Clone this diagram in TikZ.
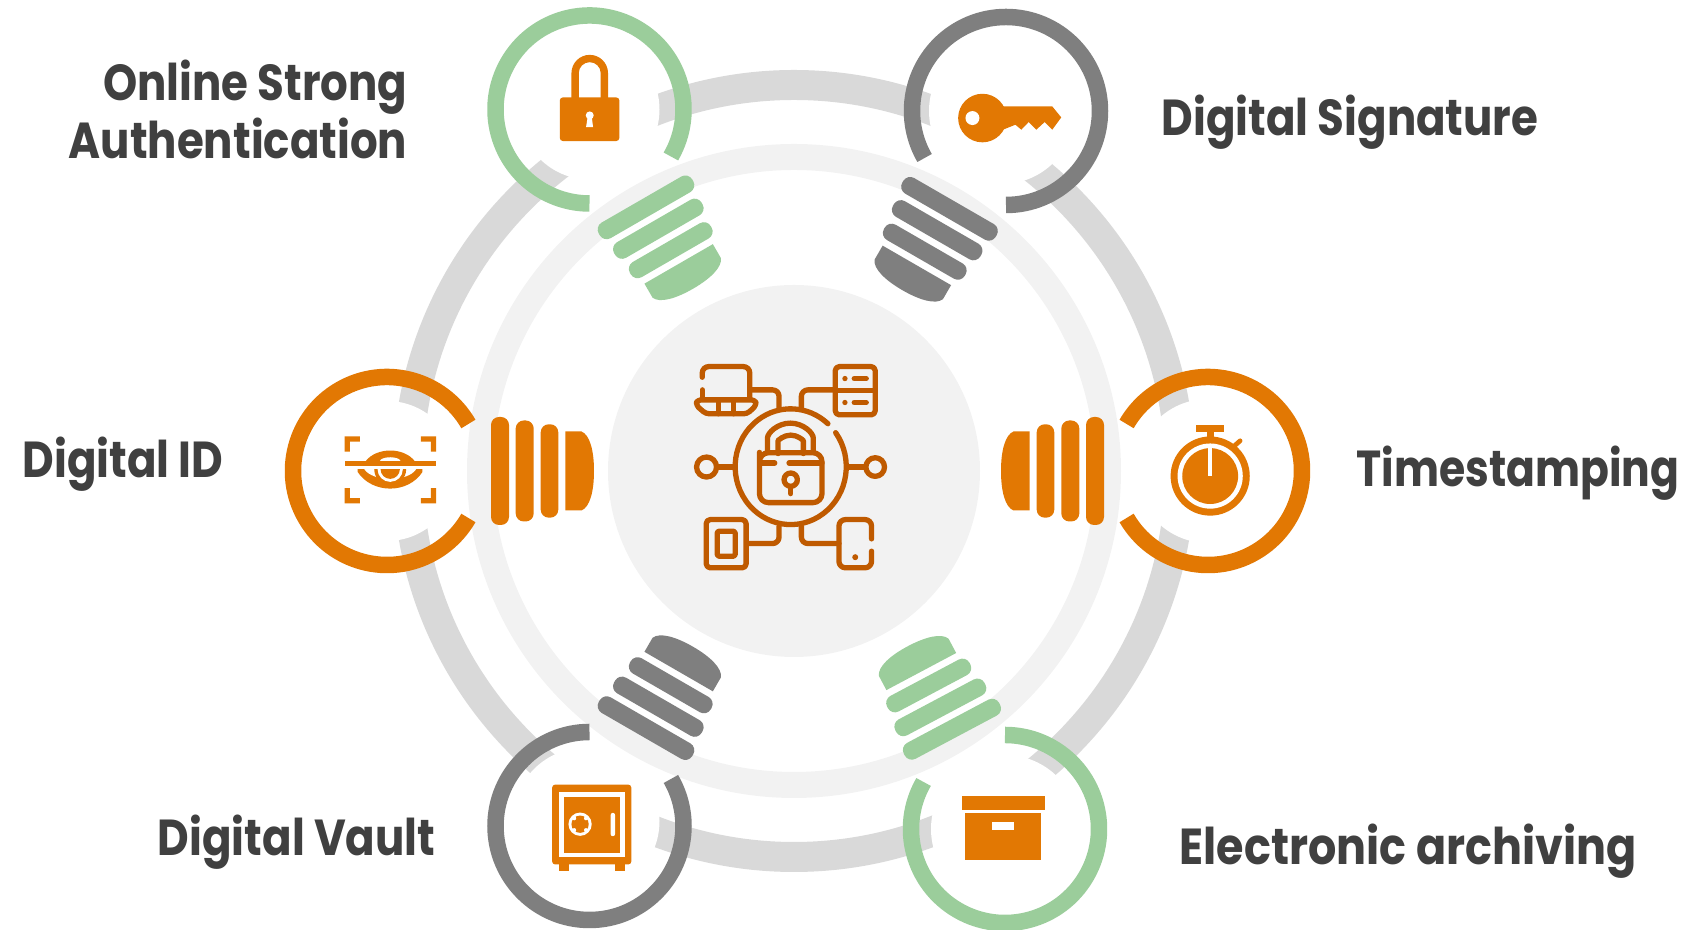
\documentclass[tikz,border=0pt]{standalone}
\usepackage{fontspec}
\setmainfont{Poppins}[FakeStretch=0.86]
\usepackage{tikz}
\definecolor{ringgray}{HTML}{D9D9D9}
\definecolor{ringlight}{HTML}{F2F2F2}
\definecolor{bulborange}{HTML}{E27803}
\definecolor{bulbgreen}{HTML}{9BCD9B}
\definecolor{bulbgray}{HTML}{7F7F7F}
\definecolor{icondark}{HTML}{BF5A00}
\definecolor{labeltext}{HTML}{404040}
\tikzset{zoompx/.style={x=0.003333cm,y=-0.003333cm}}
\tikzset{iconline/.style={draw=icondark,line width=0.053cm,rounded corners=0.065cm,line cap=round,line join=round}}
\tikzset{iconfill/.style={fill=bulborange}}
\tikzset{iconhole/.style={fill=white}}
\tikzset{labelw/.style={anchor=base west,inner sep=0,text=labeltext,font=\fontsize{14.4}{16.5}\selectfont\bfseries}}
\tikzset{labele/.style={anchor=base east,inner sep=0,text=labeltext,font=\fontsize{14.4}{16.5}\selectfont\bfseries,align=right}}
% ring of one bulb, its gap looks along +x
\newcommand{\bulbring}[1]{
\draw[#1,line width=0.165cm] (30:0.94) arc[start angle=30,end angle=330,radius=0.94];
}
% socket of one bulb, along +x
\newcommand{\bulbsocket}[1]{
\fill[#1,rounded corners=0.08cm] (1.04,-0.54) rectangle (1.22,0.54);
\fill[#1,rounded corners=0.08cm] (1.287,-0.505) rectangle (1.467,0.505);
\fill[#1,rounded corners=0.08cm] (1.537,-0.467) rectangle (1.713,0.467);
\fill[#1] (1.783,-0.395) -- (1.945,-0.395) .. controls (2.03,-0.36) and (2.07,-0.2) .. (2.07,0) .. controls (2.07,0.2) and (2.03,0.36) .. (1.945,0.395) -- (1.783,0.395) -- cycle;
}
\begin{document}
\begin{tikzpicture}
\useasboundingbox (0,0) rectangle (16.96,9.30);
\draw[ringgray,line width=0.30cm] (7.94,4.59) circle (3.86);
\draw[ringlight,line width=0.26cm] (7.94,4.59) circle (3.14);
\fill[ringlight] (7.94,4.59) circle (1.86);
\foreach \px/\py/\gap in {3.87/4.59/0.70,12.08/4.59/0.72,5.895/8.205/0.70,10.02/8.19/0.73,5.86/1.09/0.735,10.05/1.01/0.74} {
\fill[white] (\px,\py) circle (\gap);
}
\foreach \px/\py/\rot/\srot/\col in {3.87/4.59/0/0/bulborange,12.08/4.59/180/180/bulborange,5.895/8.205/-60/-60/bulbgreen,10.06/8.19/-120/-120/bulbgray,5.895/1.04/60/60/bulbgray,10.05/1.01/120/118/bulbgreen} {
\begin{scope}[shift={(\px,\py)},rotate=\rot]
\bulbring{\col}
\end{scope}
\begin{scope}[shift={(\px,\py)},rotate=\srot]
\bulbsocket{\col}
\end{scope}
}
% middle icon
\begin{scope}[shift={(6.60,5.90)},zoompx]
\draw[iconline] (393,381) ++(-36:167 and 174) arc[start angle=-36,end angle=312,x radius=167,y radius=174];
\draw[iconline,rounded corners=0.09cm] (299,365) -- (299,339) -- (487,339) -- (487,489) -- (299,489) -- cycle;
\draw[iconline] (305,370) -- (345,370);
\draw[iconline] (388,370) -- (487,370);
\draw[iconline] (323,335) -- (323,315) arc[start angle=180,end angle=360,x radius=69,y radius=65] -- (461,335);
\draw[iconline] (355,335) -- (355,322) arc[start angle=180,end angle=360,x radius=38,y radius=36] -- (431,335);
\draw[iconline] (393,420) circle[radius=20];
\draw[iconline] (393,445) -- (393,462);
% laptop
\draw[iconline] (127,112) -- (127,80) -- (270,80) -- (270,175);
\draw[iconline] (127,150) -- (127,178);
\draw[iconline,rounded corners=0.035cm] (112,180) -- (286,180) -- (290,196) -- (262,222) -- (138,222) -- (108,196) -- cycle;
\draw[iconline] (175,180) -- (175,222);
\draw[iconline] (222,180) -- (222,222);
\draw[iconline] (275,150) -- (358,150) -- (358,205);
% server
\draw[iconline,rounded corners=0.04cm] (527,80) rectangle (647,225);
\draw[iconline] (527,152) -- (647,152);
\fill[icondark] (556,116) circle[radius=8];
\fill[icondark] (556,188) circle[radius=8];
\draw[iconline] (584,116) -- (620,116);
\draw[iconline] (584,188) -- (620,188);
\draw[iconline] (527,150) -- (425,150) -- (425,205);
% side circles
\draw[iconline] (140,382) circle[radius=30];
\draw[iconline] (172,382) -- (225,382);
\draw[iconline] (647,382) circle[radius=28];
\draw[iconline] (565,382) -- (612,382);
% tablet
\draw[iconline,rounded corners=0.04cm] (139,540) rectangle (259,685);
\draw[iconline,rounded corners=0.015cm] (172,575) rectangle (226,650);
\draw[iconline] (262,612) -- (358,612) -- (358,560);
% phone
\draw[iconline] (636,598) -- (636,540) -- (538,540) -- (538,685) -- (636,685) -- (636,635);
\fill[icondark] (587,653) circle[radius=9];
\draw[iconline] (538,612) -- (425,612) -- (425,560);
\end{scope}
% padlock
\begin{scope}[shift={(4.70,9.30)},zoompx]
\fill[iconfill] (305,295) -- (305,220) arc[start angle=180,end angle=360,radius=55] -- (415,295) -- (393,295) -- (393,220) arc[start angle=360,end angle=180,radius=33] -- (327,295) -- cycle;
\fill[iconfill,rounded corners=0.03cm] (270,293) rectangle (449,424);
\fill[iconhole] (360,347) circle[radius=12];
\fill[iconhole] (354,350) -- (366,350) -- (370,382) -- (349,382) -- cycle;
\end{scope}
% key
\begin{scope}[shift={(8.70,9.30)},zoompx]
\fill[iconfill] (338,355) circle[radius=73];
\fill[iconfill] (395,320) -- (548,320) -- (575,353) -- (548,390) -- (525,367) -- (500,390) -- (477,367) -- (455,390) -- (437,375) -- (395,392) -- cycle;
\fill[iconhole] (308,355) circle[radius=21];
\end{scope}
% eye
\begin{scope}[shift={(3.35,5.05)},zoompx]
\fill[iconfill] (29,34) -- (75,34) -- (75,50) -- (45,50) -- (45,80) -- (29,80) -- cycle;
\fill[iconfill] (304,34) -- (258,34) -- (258,50) -- (288,50) -- (288,80) -- (304,80) -- cycle;
\fill[iconfill] (29,236) -- (75,236) -- (75,220) -- (45,220) -- (45,190) -- (29,190) -- cycle;
\fill[iconfill] (304,236) -- (258,236) -- (258,220) -- (288,220) -- (288,190) -- (304,190) -- cycle;
\fill[iconfill] (92,109) .. controls (125,66) and (207,66) .. (240,109) -- cycle;
\fill[iconhole] (135,109) arc[start angle=180,end angle=360,x radius=31,y radius=12] -- cycle;
\fill[iconfill] (29,109) rectangle (304,122);
\fill[iconfill] (68,133) -- (263,133) -- (263,141) .. controls (220,208) and (112,208) .. (68,141) -- cycle;
\fill[iconhole] (88,133) .. controls (115,172) and (218,172) .. (244,133) -- cycle;
\fill[iconfill] (118,133) arc[start angle=180,end angle=0,radius=48] -- cycle;
\fill[iconhole] (128,133) arc[start angle=180,end angle=0,radius=38] -- cycle;
\fill[iconfill] (137,133) arc[start angle=180,end angle=0,radius=29] -- cycle;
\end{scope}
% stopwatch
\begin{scope}[shift={(9.90,5.70)},zoompx]
\fill[iconfill] (620,195) rectangle (705,217);
\fill[iconfill] (651,217) rectangle (673,240);
\draw[bulborange,line width=0.047cm,line cap=round] (735,258) -- (752,243);
\fill[iconfill] (662,349) circle[radius=119];
\fill[iconhole] (662,349) circle[radius=98];
\fill[iconfill] (662,349) circle[radius=84];
\fill[iconhole] (656,262) rectangle (668,350);
\end{scope}
% vault
\begin{scope}[shift={(4.70,3.10)},zoompx]
\fill[iconfill] (267,730) rectangle (297,755);
\fill[iconfill] (435,730) rectangle (465,755);
\fill[iconfill,rounded corners=0.03cm] (247,495) rectangle (485,735);
\fill[iconhole] (267,517) rectangle (465,713);
\fill[iconfill] (282,532) rectangle (450,700);
\fill[iconhole] (331,614) circle[radius=35];
\fill[iconfill] (331,614) circle[radius=26];
\foreach \dang in {45,135,225,315} {
\fill[iconhole] (331,614) ++(\dang:25) circle[radius=6];
}
\fill[iconhole,rounded corners=0.02cm] (423,580) rectangle (436,650);
\end{scope}
% box
\begin{scope}[shift={(8.70,3.10)},zoompx]
\fill[iconfill] (276,528) rectangle (525,570);
\fill[iconfill] (286,580) rectangle (515,723);
\fill[iconhole] (368,606) rectangle (433,632);
\end{scope}
\node[labele] (onlinelabel) at (4.08,7.71) {Online Strong\\Authentication};
\node[labelw] (signlabel) at (11.61,7.94) {Digital Signature};
\node[labelw] (idlabel) at (0.22,4.52) {Digital ID};
\node[labelw,xscale=0.977,transform shape] (timelabel) at (13.56,4.43) {Timestamping};
\node[labele] (vaultlabel) at (4.36,0.74) {Digital Vault};
\node[labelw,xscale=1.022,transform shape] (archivelabel) at (11.79,0.65) {Electronic archiving};
\end{tikzpicture}
\end{document}
